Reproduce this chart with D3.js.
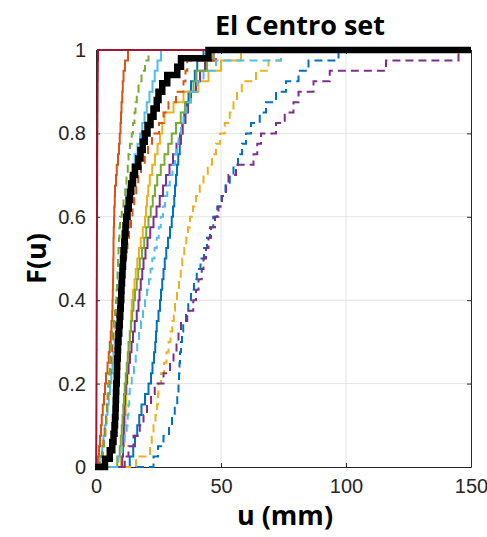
<!DOCTYPE html>
<html>
<head>
<meta charset="utf-8">
<script src="https://cdn.jsdelivr.net/npm/d3@7"></script>
<style>
  html, body { margin: 0; padding: 0; background: #fff; }
  svg { display: block; }
</style>
</head>
<body>
<div id="chart"></div>
<script>
// Empirical CDFs of displacement u (mm), El Centro record set.
// Each array holds the sorted sample values of one record.
const xTicks = [0, 50, 100, 150];
const yTicks = [0, 0.2, 0.4, 0.6, 0.8, 1];
const yTickLabels = ["0", "0.2", "0.4", "0.6", "0.8", "1"];

const blueSolid = [13.5, 14.9, 15.6, 16.5, 17.3, 18.2, 19.6, 21.0, 22.0, 22.6, 23.2, 23.7, 24.0, 24.3, 25.0, 25.6, 26.0, 26.5, 27.0, 27.5, 28.1, 28.8, 29.6, 30.3, 30.8, 31.3, 31.6, 32.0, 32.4, 32.9, 33.5, 34.0, 34.6, 35.3, 36.1, 37.0, 38.0, 39.5, 40.5, 43.0];
const orangeSolid = [0.8, 1.2, 1.6, 2.0, 2.3, 2.7, 3.2, 3.6, 4.0, 4.6, 5.1, 5.5, 5.9, 6.2, 6.5, 6.6, 6.7, 6.8, 6.85, 6.9, 7.0, 7.0, 7.1, 7.2, 7.3, 7.5, 7.6, 8.0, 8.3, 8.8, 9.2, 9.5, 9.8, 10.0, 10.2, 10.5, 10.7, 11.0, 11.6, 12.8];
const yellowSolid = [10.0, 10.8, 11.2, 11.5, 11.7, 11.9, 12.1, 12.3, 12.6, 12.9, 13.1, 13.3, 13.6, 13.9, 14.1, 14.3, 14.8, 15.4, 15.9, 16.5, 17.2, 17.9, 18.7, 19.6, 20.0, 20.4, 20.9, 21.5, 22.5, 23.6, 24.6, 25.6, 26.5, 27.4, 31.0, 35.0, 41.0, 45.0, 50.0, 58.0];
const purpleSolid = [10.5, 10.8, 10.9, 11.1, 11.2, 11.4, 11.6, 11.9, 12.4, 13.0, 13.6, 14.2, 14.8, 15.5, 16.3, 17.0, 17.4, 17.9, 18.5, 19.0, 19.8, 20.6, 21.7, 23.0, 24.2, 25.5, 26.8, 28.0, 29.4, 30.8, 32.2, 33.6, 34.6, 35.8, 36.8, 38.0, 40.0, 41.6, 43.6, 47.0];
const greenSolid = [8.5, 9.5, 9.9, 10.3, 10.6, 10.9, 11.2, 11.5, 11.9, 12.3, 12.7, 13.0, 13.5, 14.0, 14.5, 15.0, 15.6, 16.3, 16.9, 17.5, 18.4, 19.3, 20.1, 21.0, 21.9, 22.7, 23.6, 24.5, 25.9, 27.4, 28.9, 30.3, 32.0, 33.9, 35.6, 37.6, 39.0, 40.2, 44.4, 47.0];
const lightBlueSolid = [1.5, 2.5, 3.0, 3.5, 4.0, 4.6, 5.1, 5.6, 6.1, 6.6, 7.0, 7.5, 7.9, 8.3, 8.7, 9.0, 9.3, 9.6, 9.9, 10.2, 10.4, 10.7, 11.0, 11.2, 11.6, 12.1, 12.7, 13.6, 14.6, 15.5, 16.6, 17.6, 18.5, 19.4, 20.3, 21.4, 22.6, 23.5, 24.6, 26.0];
const darkRedSolid = [0.05, 0.08, 0.1, 0.13, 0.14, 0.16, 0.17, 0.19, 0.2, 0.21, 0.23, 0.24, 0.25, 0.27, 0.28, 0.29, 0.3, 0.31, 0.33, 0.34, 0.35, 0.36, 0.38, 0.39, 0.4, 0.42, 0.43, 0.45, 0.46, 0.48, 0.5, 0.52, 0.54, 0.56, 0.59, 0.61, 0.64, 0.68, 0.72, 0.8];

const blueDashed = [23.0, 24.8, 27.0, 29.2, 30.4, 31.5, 32.5, 33.0, 33.2, 33.4, 33.6, 34.0, 34.4, 34.9, 36.0, 36.9, 38.0, 39.2, 40.3, 41.8, 43.2, 44.4, 45.6, 46.9, 48.5, 50.2, 51.8, 53.5, 55.0, 56.8, 58.4, 60.0, 62.0, 65.5, 68.0, 72.0, 76.0, 81.0, 85.0, 97.0];
const orangeDashed = [1.5, 2.5, 3.0, 3.5, 4.0, 4.4, 4.7, 5.0, 5.4, 5.9, 6.2, 6.5, 7.0, 7.8, 8.4, 9.0, 9.7, 10.3, 10.9, 11.5, 12.1, 12.6, 13.2, 14.0, 14.6, 15.3, 16.1, 16.9, 18.0, 19.5, 20.8, 22.4, 25.2, 27.0, 29.0, 32.0, 35.0, 35.8, 36.5, 48.0];
const yellowDashed = [16.0, 21.6, 22.3, 23.0, 23.8, 24.4, 24.8, 25.0, 26.0, 27.2, 28.2, 29.0, 29.8, 30.5, 31.1, 31.6, 32.4, 33.2, 33.9, 34.5, 35.3, 36.1, 36.8, 37.6, 38.8, 40.0, 41.5, 43.0, 44.7, 46.4, 48.0, 49.6, 51.5, 53.5, 55.0, 56.4, 58.3, 64.0, 69.0, 74.0];
const purpleDashed = [11.5, 13.0, 15.0, 17.5, 19.0, 20.4, 22.0, 23.5, 27.0, 29.6, 31.0, 32.2, 33.0, 34.0, 36.5, 38.9, 40.0, 41.0, 42.3, 43.0, 44.0, 45.0, 46.0, 47.6, 49.0, 50.4, 52.0, 53.0, 56.0, 63.0, 64.5, 66.0, 72.0, 75.5, 79.0, 81.0, 87.0, 93.5, 116.0, 145.0];
const greenDashed = [2.0, 2.8, 3.3, 3.8, 4.2, 4.5, 4.7, 4.9, 5.2, 5.6, 5.8, 6.0, 6.5, 7.1, 7.6, 8.0, 8.2, 8.4, 8.6, 8.8, 9.0, 9.2, 9.4, 9.6, 10.3, 11.0, 11.7, 12.2, 12.7, 13.0, 13.6, 14.3, 14.8, 15.4, 15.8, 16.3, 17.0, 18.2, 19.6, 21.0];
const lightBlueDashed = [9.0, 10.5, 11.5, 12.3, 12.7, 13.0, 13.3, 13.5, 14.3, 15.2, 15.9, 16.5, 17.2, 18.0, 18.8, 19.6, 20.4, 21.2, 21.8, 22.5, 23.4, 24.3, 25.1, 25.9, 26.8, 27.6, 28.5, 29.5, 30.6, 31.6, 32.3, 33.0, 34.0, 35.0, 36.2, 38.0, 40.5, 43.0, 48.0, 74.0];

// Combined set CDF drawn as the heavy black curve.
const combinedSet = [3.6, 5.5, 6.5, 7.0, 7.4, 7.6, 7.8, 7.9, 8.0, 8.1, 8.3, 8.4, 8.5, 8.7, 8.8, 9.0, 9.3, 9.5, 9.7, 9.9, 10.1, 10.2, 10.4, 10.6, 10.8, 11.0, 11.3, 11.5, 11.8, 12.1, 12.6, 13.1, 13.6, 14.1, 14.8, 15.6, 16.9, 17.8, 18.7, 19.5, 20.6, 21.8, 23.0, 24.3, 25.0, 26.5, 28.5, 32.5, 34.0, 45.0];

// Drawing order and styles (MATLAB default colour order).
const series = [
  { values: blueSolid,       color: "#0072BD", dash: null },
  { values: orangeSolid,     color: "#D95319", dash: null },
  { values: yellowSolid,     color: "#EDB120", dash: null },
  { values: purpleSolid,     color: "#7E2F8E", dash: null },
  { values: greenSolid,      color: "#77AC30", dash: null },
  { values: lightBlueSolid,  color: "#4DBEEE", dash: null },
  { values: blueDashed,      color: "#0072BD", dash: "8,5" },
  { values: orangeDashed,    color: "#D95319", dash: "8,5" },
  { values: yellowDashed,    color: "#EDB120", dash: "8,5" },
  { values: purpleDashed,    color: "#7E2F8E", dash: "8,5" },
  { values: greenDashed,     color: "#77AC30", dash: "8,5" },
  { values: lightBlueDashed, color: "#4DBEEE", dash: "8,5" },
  { values: darkRedSolid,    color: "#A2142F", dash: null }
];

const W = 487, H = 537;
const margin = { left: 96, right: 16, top: 50, bottom: 70 };
const plotW = W - margin.left - margin.right;   // 375
const plotH = H - margin.top - margin.bottom;   // 417

const labelFont = "'Open Sans', Lato, sans-serif";
const tickFont = "'Liberation Sans', Arial, Helvetica, sans-serif";

const svg = d3.select("#chart").append("svg")
  .attr("width", W).attr("height", H)
  .style("font-family", tickFont);

svg.append("rect").attr("width", W).attr("height", H).attr("fill", "#fff");

const x = d3.scaleLinear().domain([0, 150]).range([margin.left, margin.left + plotW]);
const y = d3.scaleLinear().domain([0, 1]).range([margin.top + plotH, margin.top]);

// Grid
const grid = svg.append("g").attr("stroke", "#e3e3e3").attr("stroke-width", 1);
grid.selectAll("line.gx").data(xTicks.slice(1, -1)).join("line")
  .attr("x1", d => x(d)).attr("x2", d => x(d))
  .attr("y1", y(0)).attr("y2", y(1));
grid.selectAll("line.gy").data(yTicks.slice(1, -1)).join("line")
  .attr("x1", x(0)).attr("x2", x(150))
  .attr("y1", d => y(d)).attr("y2", d => y(d));

// Axes (box with inward ticks on all sides), drawn beneath the data lines
const axisColor = "#262626";
const fmtY = (d, i) => yTickLabels[i];
const gx = svg.append("g").attr("transform", `translate(0,${y(0)})`)
  .call(d3.axisBottom(x).tickValues(xTicks).tickSizeInner(-4).tickSizeOuter(0).tickPadding(12));
const gy = svg.append("g").attr("transform", `translate(${x(0)},0)`)
  .call(d3.axisLeft(y).tickValues(yTicks).tickFormat(fmtY).tickSizeInner(-4).tickSizeOuter(0).tickPadding(10));
const gt = svg.append("g").attr("transform", `translate(0,${y(1)})`)
  .call(d3.axisTop(x).tickValues(xTicks).tickFormat("").tickSizeInner(-4).tickSizeOuter(0));
const gr = svg.append("g").attr("transform", `translate(${x(150)},0)`)
  .call(d3.axisRight(y).tickValues(yTicks).tickFormat("").tickSizeInner(-4).tickSizeOuter(0));

[gx, gy, gt, gr].forEach(g => {
  g.select(".domain").attr("stroke", axisColor).attr("stroke-width", 1);
  g.selectAll(".tick line").attr("stroke", axisColor).attr("stroke-width", 1);
  g.selectAll(".tick text")
    .attr("fill", axisColor)
    .style("font-family", tickFont)
    .style("font-size", "20px");
});

// Clip to the axes horizontally (with a pixel of slack so lines at u≈0 stay visible);
// lines may spill slightly past top/bottom like MATLAB.
svg.append("clipPath").attr("id", "plotclip").append("rect")
  .attr("x", x(0) - 1).attr("y", y(1) - 10)
  .attr("width", plotW + 1).attr("height", plotH + 20);

// Empirical CDF as a stair path, extended to the axis limits on both sides.
function ecdfPoints(vals) {
  const s = vals.slice().sort((a, b) => a - b);
  const n = s.length;
  const pts = [[-10, 0]];
  s.forEach((v, i) => pts.push([v, (i + 1) / n]));
  pts.push([160, 1]);
  return pts;
}
const stair = d3.line()
  .x(d => x(d[0])).y(d => y(d[1]))
  .curve(d3.curveStepAfter);

const lines = svg.append("g").attr("clip-path", "url(#plotclip)");
series.forEach(s => {
  lines.append("path")
    .attr("d", stair(ecdfPoints(s.values)))
    .attr("fill", "none")
    .attr("stroke", s.color)
    .attr("stroke-width", 2)
    .attr("stroke-dasharray", s.dash)
    .attr("stroke-linejoin", "miter");
});
lines.append("path")
  .attr("d", stair(ecdfPoints(combinedSet)))
  .attr("fill", "none")
  .attr("stroke", "#000")
  .attr("stroke-width", 6.5)
  .attr("stroke-linejoin", "miter");

// Titles
svg.append("text")
  .attr("x", 300).attr("y", 35)
  .attr("text-anchor", "middle")
  .style("font-family", labelFont)
  .style("font-weight", "bold").style("font-size", "27px")
  .attr("fill", "#000")
  .text("El Centro set");

svg.append("text")
  .attr("x", 285).attr("y", 525)
  .attr("text-anchor", "middle")
  .style("font-family", labelFont)
  .style("font-weight", "bold").style("font-size", "27px")
  .attr("fill", "#000")
  .text("u (mm)");

svg.append("text")
  .attr("transform", `translate(46,${(y(0) + y(1)) / 2}) rotate(-90)`)
  .attr("text-anchor", "middle")
  .style("font-family", labelFont)
  .style("font-weight", "bold").style("font-size", "27px")
  .attr("fill", "#000")
  .text("F(u)");
</script>
</body>
</html>
